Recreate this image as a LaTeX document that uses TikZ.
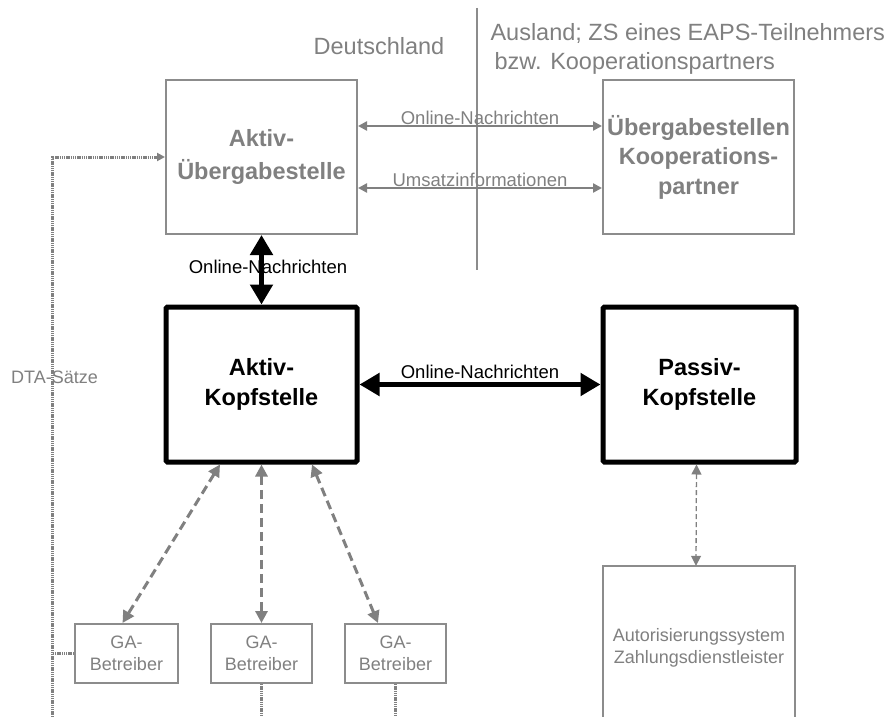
\documentclass[tikz,border=0pt]{standalone}
\usepackage{fontspec}
\setmainfont{Liberation Sans}
\usetikzlibrary{arrows.meta,calc}
\definecolor{midgray}{RGB}{128,128,128}
\definecolor{boxgray}{RGB}{140,140,140}

\begin{document}
\begin{tikzpicture}[x=1pt,y=-1pt,
  graybox/.style={draw=boxgray,line width=2pt,text=midgray,align=center,inner sep=0pt},
  blackbox/.style={draw=black,line width=5pt,rounded corners=1.5pt,align=center,inner sep=0pt},
  bigfont/.style={font=\fontsize{23.5}{29.5}\selectfont\bfseries},
  smallfont/.style={font=\fontsize{18}{22}\selectfont},
  msgfont/.style={font=\fontsize{18.5}{20}\selectfont},
  regionfont/.style={font=\fontsize{23.5}{28}\selectfont,text=midgray},
  heavyarrow/.style={line width=5pt,{Triangle[width=22pt,length=20pt]}-{Triangle[width=22pt,length=20pt]}},
  grayarrow/.style={draw=midgray,line width=2.5pt,{Triangle[width=9pt,length=9pt]}-{Triangle[width=9pt,length=9pt]}},
  dasharrow/.style={draw=midgray,line width=3pt,dash pattern=on 9pt off 5pt,{Triangle[width=12pt,length=12pt]}-{Triangle[width=12pt,length=12pt]}},
  thindash/.style={draw=midgray,line width=1.3pt,dash pattern=on 5pt off 3pt,{Triangle[width=10pt,length=10pt]}-{Triangle[width=10pt,length=10pt]}},
  dotline/.style={draw=midgray,line width=3pt,dash pattern=on 1.4pt off 0.8pt},
]
\fill[white] (0,0) rectangle (895,717);
\useasboundingbox (0,0) rectangle (895,717);

% region headings and border line
\node[regionfont,anchor=base] (de) at (379,55) {Deutschland};
\node[regionfont,anchor=base west] (ausA) at (487,41) {Ausland; ZS eines EAPS-Teilnehmers};
\node[regionfont,anchor=base west] (ausB) at (487,70) {\hspace{4pt}bzw. Kooperationspartners};
\coordinate (divtop) at (477,8);
\coordinate (divbot) at (477,270);
\draw[boxgray,line width=1.5pt] (divtop) -- (divbot);

% upper boxes
\node[graybox,bigfont,minimum width=191pt,minimum height=154pt] (aktu) at (261.5,157) {Aktiv-\\[3pt]Übergabestelle};
\node[graybox,bigfont,minimum width=191pt,minimum height=153pt] (koop) at (698.5,157) {Übergabestellen\\Kooperations-\\partner};

% head offices
\node[blackbox,bigfont,minimum width=191pt,minimum height=155pt] (aktk) at (261.5,384.5) {Aktiv-\\Kopfstelle};
\node[blackbox,bigfont,minimum width=193pt,minimum height=155pt] (pask) at (699.5,384.5) {Passiv-\\Kopfstelle};

% terminal operators
\node[graybox,smallfont,minimum width=103pt,minimum height=59pt] (ga1) at (126.5,653.5) {GA-\\Betreiber};
\node[graybox,smallfont,minimum width=101pt,minimum height=59pt] (ga2) at (261.5,653.5) {GA-\\Betreiber};
\node[graybox,smallfont,minimum width=101pt,minimum height=59pt] (ga3) at (395.5,653.5) {GA-\\Betreiber};

% authorisation system, open at the lower edge
\node[smallfont,text=midgray,align=center,minimum width=192pt,minimum height=164pt,inner sep=0pt] (autor) at (699,648) {Autorisierungssystem\\Zahlungsdienstleister};
\coordinate (bottom) at (52,717);
\draw[boxgray,line width=2pt] (autor.north west |- bottom) -- (autor.north west) -- (autor.north east) -- (autor.north east |- bottom);

% messages between the transfer points
\draw[grayarrow] ([yshift=31pt]aktu.east) -- node[msgfont,text=midgray,anchor=base,yshift=1.5pt] (lon) {Online-Nachrichten} ([yshift=31pt]koop.west);
\draw[grayarrow] ([yshift=-31pt]aktu.east) -- node[msgfont,text=midgray,anchor=base,yshift=1.5pt] (lum) {Umsatzinformationen} ([yshift=-31pt]koop.west);

% online messages between head offices
\node[msgfont,anchor=center] (lvert) at (268,267) {Online-Nachrichten};
\draw[heavyarrow] (aktu.south) -- (aktk.north);
\draw[heavyarrow] (aktk.east) -- node[msgfont,anchor=base,yshift=6pt] (lhor) {Online-Nachrichten} (pask.east -| pask.west);

% terminal operator links
\draw[dasharrow] ([xshift=-41.5pt]aktk.south) -- ([xshift=-4pt]ga1.north);
\draw[dasharrow] (aktk.south) -- (ga2.north);
\draw[dasharrow] ([xshift=50.5pt]aktk.south) -- ([xshift=-17.5pt]ga3.north);
\draw[thindash] ([xshift=-3pt]pask.south) -- ([xshift=-3pt]autor.north);

% DTA records
\draw[dotline,-{Triangle[width=8pt,length=8pt]}] (bottom) |- (aktu.west);
\node[smallfont,text=midgray] (dta) at (54.5,377) {DTA-Sätze};
\draw[dotline] (ga1.west) -- (ga1.west -| bottom);
\draw[dotline] (ga2.south) -- (ga2.south |- bottom);
\draw[dotline] (ga3.south) -- (ga3.south |- bottom);
\end{tikzpicture}
\end{document}
